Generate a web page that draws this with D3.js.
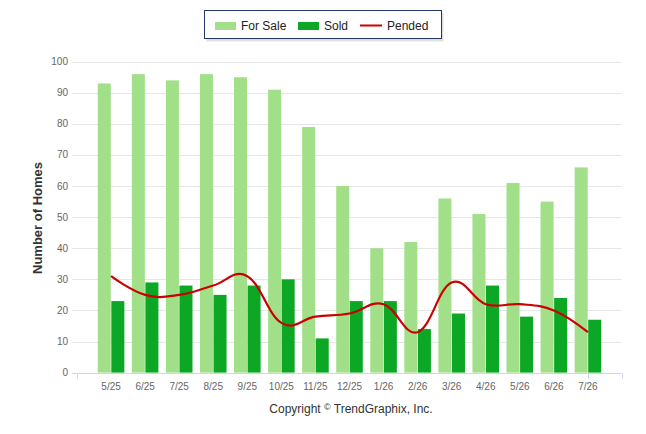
<!DOCTYPE html>
<html>
<head>
<meta charset="utf-8">
<script src="https://cdn.jsdelivr.net/npm/d3@7"></script>
<style>
body { margin:0; background:#fff; }
text { font-family:"Liberation Sans", Arial, sans-serif; }
</style>
</head>
<body>
<div id="chart"></div>
<script>
// data
let months = ["5/25","6/25","7/25","8/25","9/25","10/25","11/25","12/25","1/26","2/26","3/26","4/26","5/26","6/26","7/26"];
let forSale = [93,96,94,96,95,91,79,60,40,42,56,51,61,55,66];
let sold = [23,29,28,25,28,30,11,23,23,14,19,28,18,24,17];
let pended = [31,25,25,28,31,16,18,19,22,13,29,22,22,20,13];
let yTicks = [0,10,20,30,40,50,60,70,80,90,100];

let width = 646, height = 434;
let plotLeft = 72, plotRight = 622, plotTop = 61.7, plotBottom = 372.6;

let svg = d3.select("#chart")
    .append("svg")
    .attr("width", width)
    .attr("height", height);

// x runs from one slot before the first month to one after the last
let x = d3.scaleLinear().domain([-1, months.length]).range([77, 622]);
let y = d3.scaleLinear().domain([0, 100]).range([plotBottom, plotTop]);
let slot = x(1) - x(0);
let inner = d3.scaleBand().domain(["forSale","sold"]).range([-slot*0.39, slot*0.39]).paddingInner(0.04);

// grid
svg.append("g").selectAll("line")
    .data(yTicks)
    .enter().append("line")
    .attr("x1", plotLeft).attr("x2", plotRight)
    .attr("y1", d => Math.round(y(d)) + 0.5).attr("y2", d => Math.round(y(d)) + 0.5)
    .attr("stroke", "#e6e6e6");

// y labels
svg.append("g").selectAll("text")
    .data(yTicks)
    .enter().append("text")
    .attr("x", 68).attr("y", d => y(d) + 3.5)
    .attr("text-anchor", "end")
    .attr("font-size", "10px")
    .attr("fill", "#666")
    .text(d => d);

svg.append("text")
    .attr("transform", "translate(42,218) rotate(-90)")
    .attr("text-anchor", "middle")
    .attr("font-size", "13px")
    .attr("font-weight", "bold")
    .attr("fill", "#333")
    .text("Number of Homes");

// bars
let groups = svg.append("g").selectAll("g")
    .data(months)
    .enter().append("g")
    .attr("transform", (d,i) => "translate(" + x(i) + ",0)");

groups.append("rect")
    .attr("x", inner("forSale"))
    .attr("width", inner.bandwidth())
    .attr("y", (d,i) => y(forSale[i]))
    .attr("height", (d,i) => y(0) - y(forSale[i]))
    .attr("fill", "#a1e089");

groups.append("rect")
    .attr("x", inner("sold"))
    .attr("width", inner.bandwidth())
    .attr("y", (d,i) => y(sold[i]))
    .attr("height", (d,i) => y(0) - y(sold[i]))
    .attr("fill", "#0ca825");

// x axis
let xAxis = svg.append("g")
    .attr("transform", "translate(0," + (Math.round(plotBottom) + 0.5) + ")");
xAxis.append("line")
    .attr("x1", plotLeft).attr("x2", plotRight)
    .attr("stroke", "#ccd6eb");
xAxis.selectAll("line.tick")
    .data([-1, months.length - 1, months.length])
    .enter().append("line")
    .attr("class", "tick")
    .attr("x1", d => Math.round(x(d)) + 0.5).attr("x2", d => Math.round(x(d)) + 0.5)
    .attr("y1", 0).attr("y2", 5)
    .attr("stroke", "#ccd6eb");
xAxis.selectAll("text")
    .data(months)
    .enter().append("text")
    .attr("x", (d,i) => x(i))
    .attr("y", 16)
    .attr("text-anchor", "middle")
    .attr("font-size", "10px")
    .attr("fill", "#666")
    .text(d => d);

// pended spline, tangents through neighbours (no clamping, so it overshoots a bit like the original)
function splinePath(pts)
{
    let smoothing = 1.5, denom = smoothing + 1;
    let p = d3.path();
    let rc = [];
    for (let i = 0; i < pts.length; i++)
    {
        let px = pts[i][0], py = pts[i][1];
        let lcx = px, lcy = py;
        if (i > 0 && i < pts.length - 1)
        {
            let lx = pts[i-1][0], ly = pts[i-1][1], nx = pts[i+1][0], ny = pts[i+1][1];
            lcx = (smoothing*px + lx)/denom;
            lcy = (smoothing*py + ly)/denom;
            let rcx = (smoothing*px + nx)/denom;
            let rcy = (smoothing*py + ny)/denom;
            let corr = ((rcy - lcy)*(rcx - px))/(rcx - lcx) + py - rcy;
            lcy += corr; rcy += corr;
            rc[i] = [rcx, rcy];
        }
        else rc[i] = [px, py];
        if (i == 0) p.moveTo(px, py);
        else p.bezierCurveTo(rc[i-1][0], rc[i-1][1], lcx, lcy, px, py);
    }
    return p.toString();
}

svg.append("path")
    .attr("d", splinePath(pended.map((v,i) => [x(i), y(v)])))
    .attr("fill", "none")
    .attr("stroke", "#cc0000")
    .attr("stroke-width", 2.2)
    .attr("stroke-linejoin", "round");

// legend
let legend = svg.append("g");
legend.append("rect")
    .attr("x", 206.5).attr("y", 12.5).attr("width", 237).attr("height", 29)
    .attr("fill", "#000").attr("opacity", 0.12);
legend.append("rect")
    .attr("x", 204.5).attr("y", 10.5).attr("width", 237).attr("height", 28)
    .attr("fill", "#fff").attr("stroke", "#1f3864");
legend.append("rect")
    .attr("x", 215).attr("y", 22).attr("width", 21).attr("height", 8)
    .attr("fill", "#a1e089");
legend.append("text")
    .attr("x", 241).attr("y", 30).attr("font-size", "12px").attr("fill", "#222")
    .text("For Sale");
legend.append("rect")
    .attr("x", 298).attr("y", 22).attr("width", 21).attr("height", 8)
    .attr("fill", "#0ca825");
legend.append("text")
    .attr("x", 324).attr("y", 30).attr("font-size", "12px").attr("fill", "#222")
    .text("Sold");
legend.append("line")
    .attr("x1", 360).attr("x2", 382).attr("y1", 25.5).attr("y2", 25.5)
    .attr("stroke", "#cc0000").attr("stroke-width", 2);
legend.append("text")
    .attr("x", 387).attr("y", 30).attr("font-size", "12px").attr("fill", "#222")
    .text("Pended");

// credits
let credit = svg.append("text")
    .attr("x", 351).attr("y", 413)
    .attr("text-anchor", "middle")
    .attr("font-size", "12px")
    .attr("fill", "#333");
credit.append("tspan").text("Copyright ");
credit.append("tspan").attr("font-size", "9px").attr("dy", -3).text("©");
credit.append("tspan").attr("dy", 3).text(" TrendGraphix, Inc.");
</script>
</body>
</html>
